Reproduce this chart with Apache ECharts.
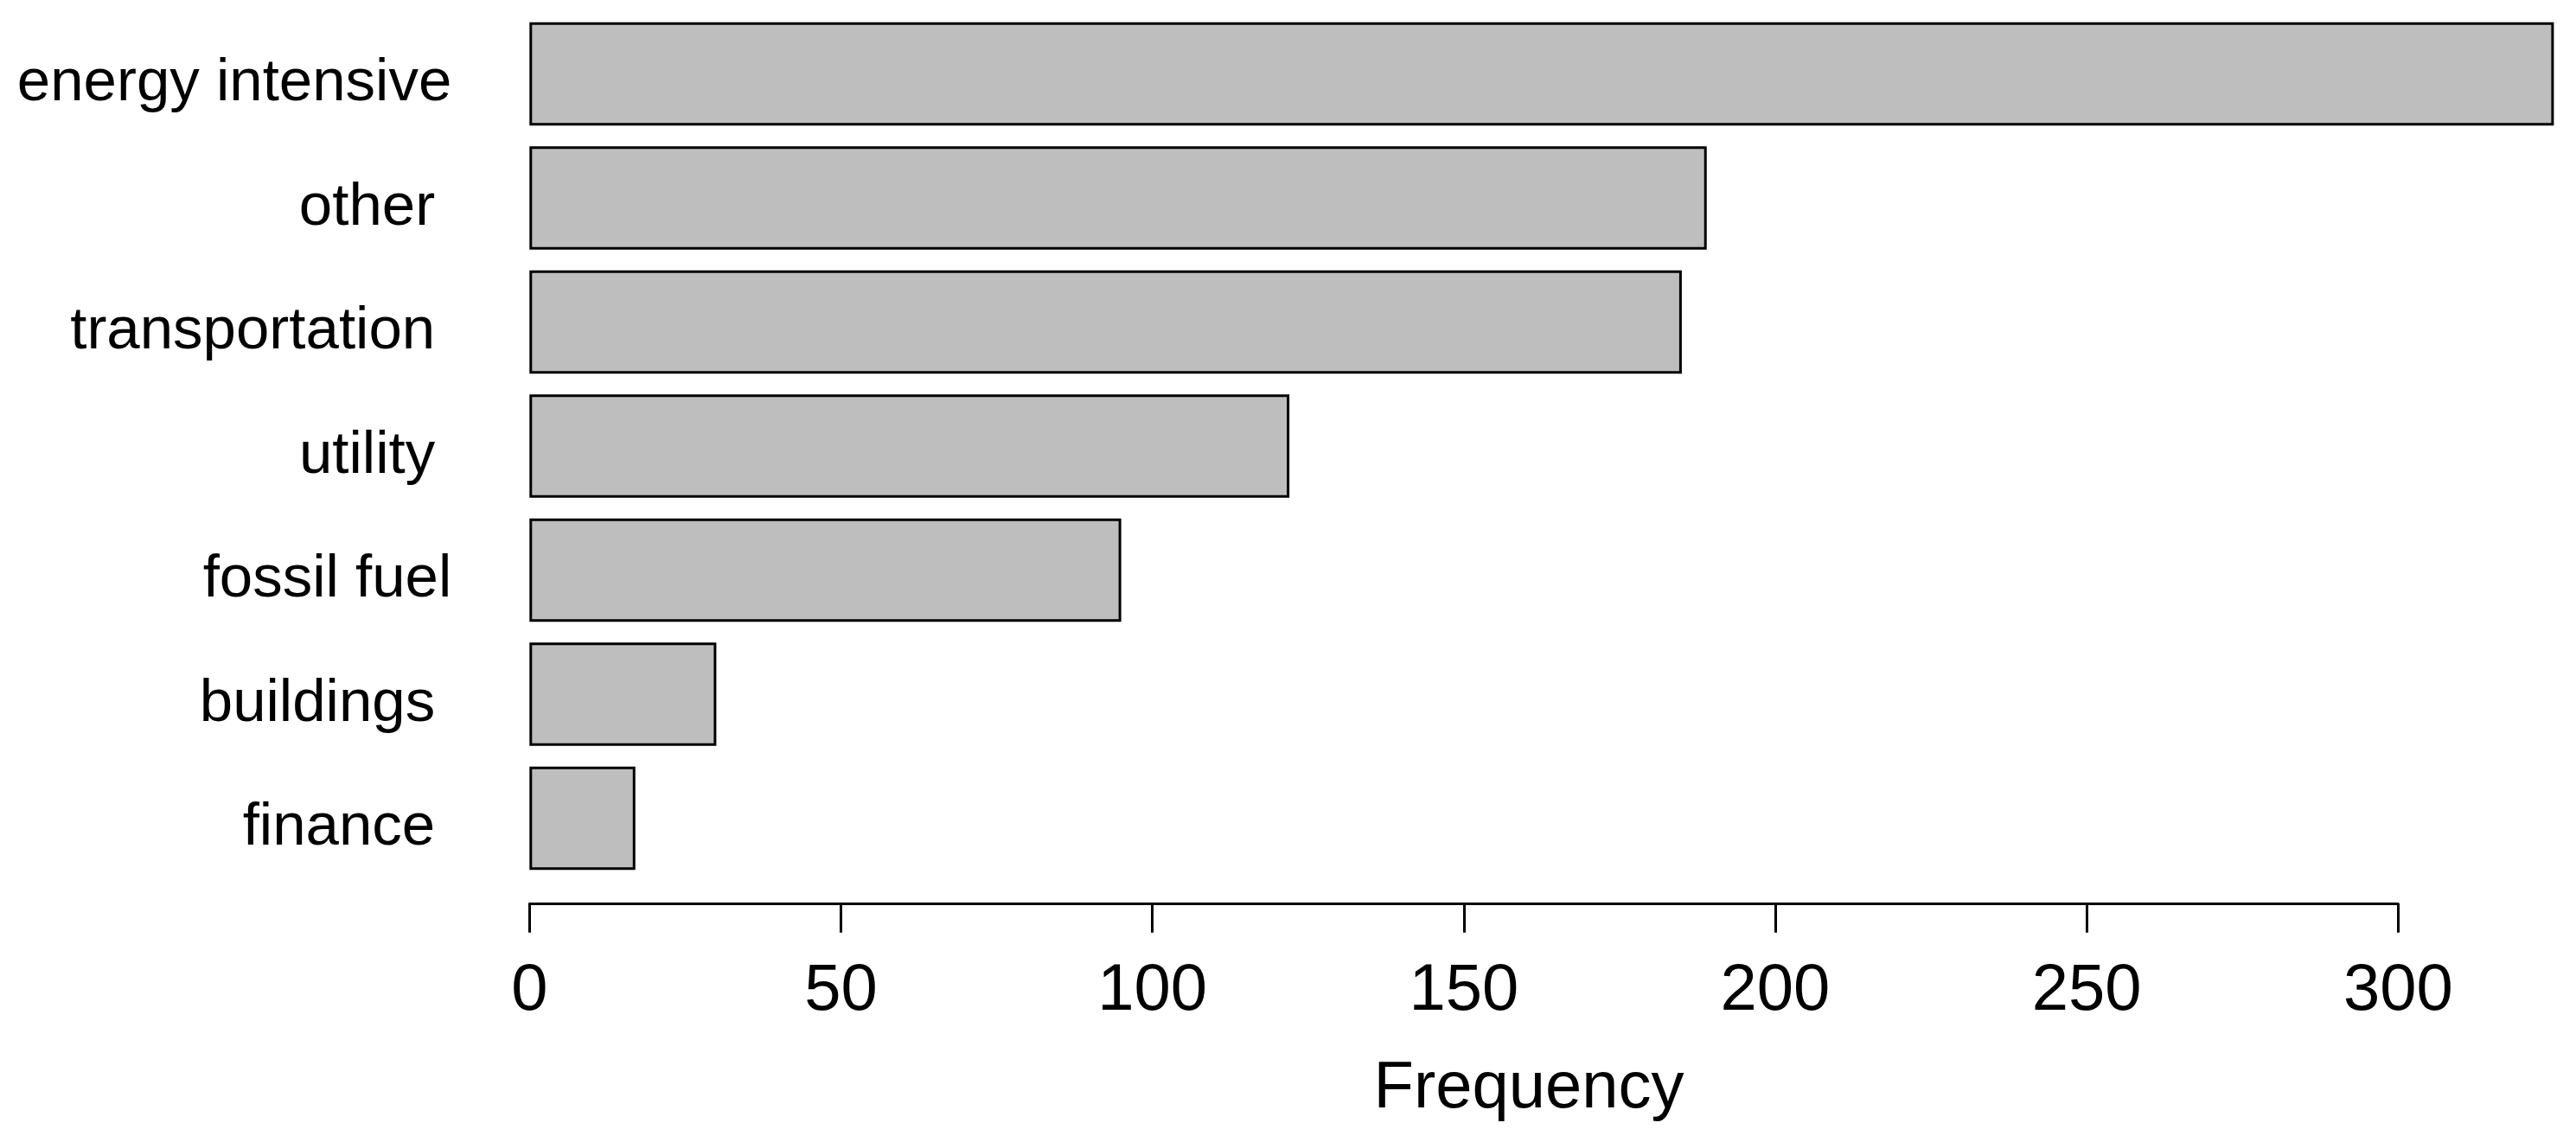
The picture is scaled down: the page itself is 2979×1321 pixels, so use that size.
<!DOCTYPE html>
<html>
<head>
<meta charset="utf-8">
<script src="https://cdn.jsdelivr.net/npm/echarts@6/dist/echarts.min.js"></script>
<style>
  html, body { margin: 0; padding: 0; background: #ffffff; }
  #chart { width: 2979px; height: 1321px; }
</style>
</head>
<body>
<div id="chart"></div>
<script>
// Data (top to bottom)
const categories = ['energy intensive', 'other ', 'transportation ', 'utility ', 'fossil fuel', 'buildings ', 'finance '];
const frequencies = [325, 189, 185, 122, 95, 30, 17];
const xTicks = [0, 50, 100, 150, 200, 250, 300];
const xTitle = 'Frequency';

const FONT = '"Liberation Sans", Arial, Helvetica, sans-serif';
const chart = echarts.init(document.getElementById('chart'), null, { renderer: 'canvas' });

const option = {
  backgroundColor: '#ffffff',
  animation: false,
  grid: {
    left: 612.3,
    right: 2979 - 2773.3,
    top: 13.7,
    height: 1004.5,
    containLabel: false,
    outerBoundsMode: 'none'
  },
  xAxis: {
    type: 'value',
    min: xTicks[0],
    max: xTicks[xTicks.length - 1],
    interval: xTicks[1] - xTicks[0],
    offset: 27.5,
    axisLine: { show: true, lineStyle: { color: '#000', width: 3 } },
    axisTick: { show: true, length: 33, lineStyle: { color: '#000', width: 3 } },
    axisLabel: {
      show: true, margin: 63, color: '#000', fontSize: 76, fontFamily: FONT,
      formatter: function (v) { return String(v); }
    },
    splitLine: { show: false }
  },
  yAxis: {
    type: 'category',
    data: categories,
    inverse: true,
    axisLine: { show: false },
    axisTick: { show: false },
    axisLabel: {
      show: true, margin: 90, color: '#000', fontSize: 69, fontFamily: FONT,
      formatter: function (v) { return '{a|' + v + '}'; },
      rich: {
        a: { color: '#000', fontSize: 69, fontFamily: FONT, padding: [24, 0, 0, 0] }
      }
    },
    splitLine: { show: false }
  },
  graphic: [{
    type: 'text',
    x: 1768,
    y: 1260,
    style: {
      text: xTitle,
      align: 'center',
      verticalAlign: 'middle',
      fill: '#000',
      font: '76px ' + FONT
    }
  }],
  series: [{
    type: 'bar',
    data: frequencies,
    barCategoryGap: '16.667%',
    clip: false,
    silent: true,
    itemStyle: { color: '#BEBEBE', borderColor: '#000', borderWidth: 3 }
  }]
};
chart.setOption(option);
</script>
</body>
</html>
